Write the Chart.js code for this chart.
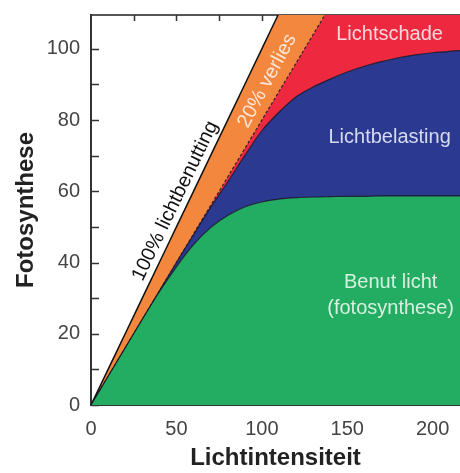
<!DOCTYPE html>
<html>
<head>
<meta charset="utf-8">
<script src="https://cdn.jsdelivr.net/npm/chart.js@4.4.0/dist/chart.umd.min.js"></script>
<style>
  html, body { margin: 0; padding: 0; background: #fff; }
  #wrap { width: 460px; height: 473px; }
</style>
</head>
<body>
<div id="wrap"><canvas id="chart" width="460" height="473"></canvas></div>
<script>
// light intensity (x) and the upper edge of each band
const intensity = [0, 10, 20, 30, 40, 50, 60, 70, 80, 90, 100, 110, 120, 130, 140, 150, 160, 170, 180, 190, 200, 210, 220];
const usedLight = [0, 8, 16, 24, 31.8, 38.8, 45, 49.8, 53.2, 55.6, 57, 57.8, 58.2, 58.4, 58.5, 58.6, 58.6, 58.7, 58.7, 58.7, 58.7, 58.7, 58.7];
const lightLoad = [0, 8, 16, 24, 32, 40, 47.8, 55.5, 62.6, 70, 77, 82.2, 86.5, 89.3, 91.5, 93.5, 95.1, 96.4, 97.5, 98.3, 98.9, 99.3, 99.6];
const loss20 = [0, 8, 16, 24, 32, 40, 48, 56, 64, 72, 80, 88, 96, 104, 112, 120, 128, 136, 144, 152, 160, 168, 176];
const fullUse = [0, 10, 20, 30, 40, 50, 60, 70, 80, 90, 100, 110, 120, 130, 140, 150, 160, 170, 180, 190, 200, 210, 220];

const xTickLabels = [0, 50, 100, 150, 200];
const yTickLabels = [0, 20, 40, 60, 80, 100];
const yMinorTicks = [0, 10, 20, 30, 40, 50, 60, 70, 80, 90, 100];
const xMinorTicks = [25, 50, 75, 100, 125, 150, 175, 200];

// text labels, placed in data units
const bandLabels = [
    { text: 'Lichtschade', x: 174.8, y: 103.9, color: '#fbd7dc' },
    { text: 'Lichtbelasting', x: 174.8, y: 75, color: '#d7dbef' },
    { text: 'Benut licht', x: 175.4, y: 34.3, color: '#d8f0e0' },
    { text: '(fotosynthese)', x: 175.4, y: 27.2, color: '#d8f0e0' }
];
const lineLabels = [
    { text: '100% lichtbenutting', x: 49.3, y: 57.3, color: '#111', dir: [100, 100] },
    { text: '20% verlies', x: 103.2, y: 91, color: '#fde7d8', dir: [100, 90] }
];

const tickFont = { family: 'Liberation Sans, Arial, sans-serif', size: 20 };
const titleFont = { family: 'Liberation Sans, Arial, sans-serif', size: 24, weight: 'bold' };

function toPoints(ys) {
    return intensity.map((x, i) => ({ x: x, y: ys[i] }));
}

const decorations = {
    id: 'decorations',
    beforeDatasetsDraw(chart) {
        const ctx = chart.ctx;
        const x = chart.scales.x;
        const y = chart.scales.y;
        const area = chart.chartArea;
        ctx.save();
        ctx.strokeStyle = '#333';
        ctx.lineWidth = 1.5;
        ctx.beginPath();
        yMinorTicks.forEach(v => {
            const py = Math.round(y.getPixelForValue(v)) + 0.5;
            ctx.moveTo(area.left, py);
            ctx.lineTo(area.left + 8, py);
        });
        xMinorTicks.forEach(v => {
            const px = Math.round(x.getPixelForValue(v)) + 0.5;
            ctx.moveTo(px, area.top);
            ctx.lineTo(px, area.top + 6);
        });
        ctx.stroke();
        ctx.restore();
    },
    afterDatasetsDraw(chart) {
        const ctx = chart.ctx;
        const x = chart.scales.x;
        const y = chart.scales.y;
        ctx.save();
        ctx.font = '20px "Liberation Sans", Arial, sans-serif';
        ctx.textAlign = 'center';
        ctx.textBaseline = 'middle';
        bandLabels.forEach(l => {
            ctx.fillStyle = l.color;
            ctx.fillText(l.text, x.getPixelForValue(l.x), y.getPixelForValue(l.y));
        });
        lineLabels.forEach(l => {
            const dx = x.getPixelForValue(l.dir[0]) - x.getPixelForValue(0);
            const dy = y.getPixelForValue(l.dir[1]) - y.getPixelForValue(0);
            ctx.save();
            ctx.translate(x.getPixelForValue(l.x), y.getPixelForValue(l.y));
            ctx.rotate(Math.atan2(dy, dx));
            ctx.fillStyle = l.color;
            ctx.fillText(l.text, 0, 0);
            ctx.restore();
        });
        ctx.restore();
    }
};

const edge = 'rgba(20, 20, 35, 0.85)';

new Chart(document.getElementById('chart'), {
    type: 'line',
    data: {
        datasets: [
            {
                label: 'Benut licht',
                data: toPoints(usedLight),
                fill: 'origin',
                backgroundColor: '#22ad63',
                borderColor: edge,
                borderWidth: 1.2
            },
            {
                label: 'Lichtbelasting',
                data: toPoints(lightLoad),
                fill: '-1',
                backgroundColor: '#2b3990',
                borderColor: edge,
                borderWidth: 1.2
            },
            {
                label: 'Lichtschade',
                data: toPoints(loss20),
                fill: '-1',
                backgroundColor: '#ed283f',
                borderColor: edge,
                borderWidth: 1.2,
                borderDash: [3, 2]
            },
            {
                label: '20% verlies',
                data: toPoints(fullUse),
                fill: '-1',
                backgroundColor: '#f3873e',
                borderColor: '#111',
                borderWidth: 1.5
            }
        ]
    },
    options: {
        responsive: false,
        animation: false,
        cubicInterpolationMode: 'monotone',
        elements: { point: { radius: 0 } },
        layout: { padding: 0 },
        plugins: {
            legend: { display: false },
            tooltip: { enabled: false }
        },
        scales: {
            x: {
                type: 'linear',
                position: 'bottom',
                min: 0,
                max: 216,
                z: 1,
                afterBuildTicks: s => { s.ticks = xTickLabels.map(v => ({ value: v })); },
                afterFit: s => { s.height = 68; s.paddingLeft = 0; s.paddingRight = 0; },
                grid: { display: false, drawTicks: false },
                border: { display: true, color: '#333', width: 2 },
                ticks: { font: tickFont, color: '#444', padding: 12, maxRotation: 0 },
                title: { display: true, text: 'Lichtintensiteit', font: titleFont, color: '#222', padding: { top: 0, bottom: 0 } }
            },
            xTop: {
                type: 'linear',
                position: 'top',
                min: 0,
                max: 216,
                z: 1,
                afterFit: s => { s.height = 15; s.paddingLeft = 0; s.paddingRight = 0; },
                grid: { display: false, drawTicks: false },
                border: { display: true, color: '#555', width: 2 },
                ticks: { display: false }
            },
            y: {
                type: 'linear',
                min: 0,
                max: 109.5,
                z: 1,
                afterBuildTicks: s => { s.ticks = yTickLabels.map(v => ({ value: v })); },
                afterFit: s => { s.width = 91; s.paddingTop = 0; s.paddingBottom = 0; },
                grid: { display: false, drawTicks: false },
                border: { display: true, color: '#333', width: 2 },
                ticks: { font: tickFont, color: '#444', padding: 11 },
                title: { display: true, text: 'Fotosynthese', font: titleFont, color: '#222', padding: { top: 12, bottom: 0 } }
            }
        }
    },
    plugins: [decorations]
});
</script>
</body>
</html>
